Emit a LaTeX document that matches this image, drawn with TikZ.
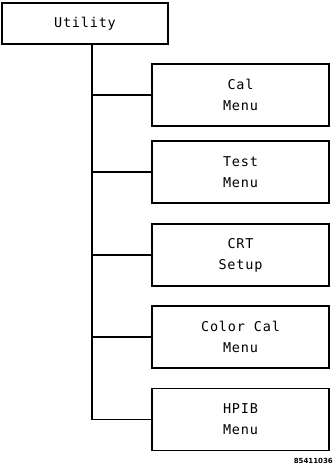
\documentclass[tikz,border=0pt]{standalone}
\usepackage{fontspec}
\newfontfamily\plotfont[LetterSpace=6]{DejaVu Sans Mono}
\newfontfamily\tagfont{DejaVu Sans}
\begin{document}
\begin{tikzpicture}[x=1pt,y=-1pt,
  menubox/.style={draw,line width=1.1pt,minimum width=177pt,minimum height=62pt,inner sep=0pt,
     font=\plotfont\fontsize{13.5}{21}\selectfont,align=center},
  link/.style={line width=1.1pt}]
\useasboundingbox (0,0) rectangle (333,470);
\node[menubox,minimum width=166pt,minimum height=41pt] (util) at (85,23.5) {Utility};
\node[menubox] (cal) at (240.5,95) {Cal\\Menu};
\node[menubox] (test) at (240.5,172) {Test\\Menu};
\node[menubox] (crt) at (240.5,255) {CRT\\Setup};
\node[menubox] (color) at (240.5,337) {Color Cal\\Menu};
\node[menubox] (hpib) at (240.5,419.5) {HPIB\\Menu};
\coordinate (trunk) at (92,0);
\draw[link] (util.south -| trunk) -- (hpib.west -| trunk) -- (hpib.west);
\foreach \n in {cal,test,crt,color} \draw[link] (\n.west -| trunk) -- (\n.west);
\node[font=\tagfont\bfseries\fontsize{7}{8}\selectfont,anchor=east,inner sep=0pt] (tag) at (333,461) {85411036};
\end{tikzpicture}
\end{document}
